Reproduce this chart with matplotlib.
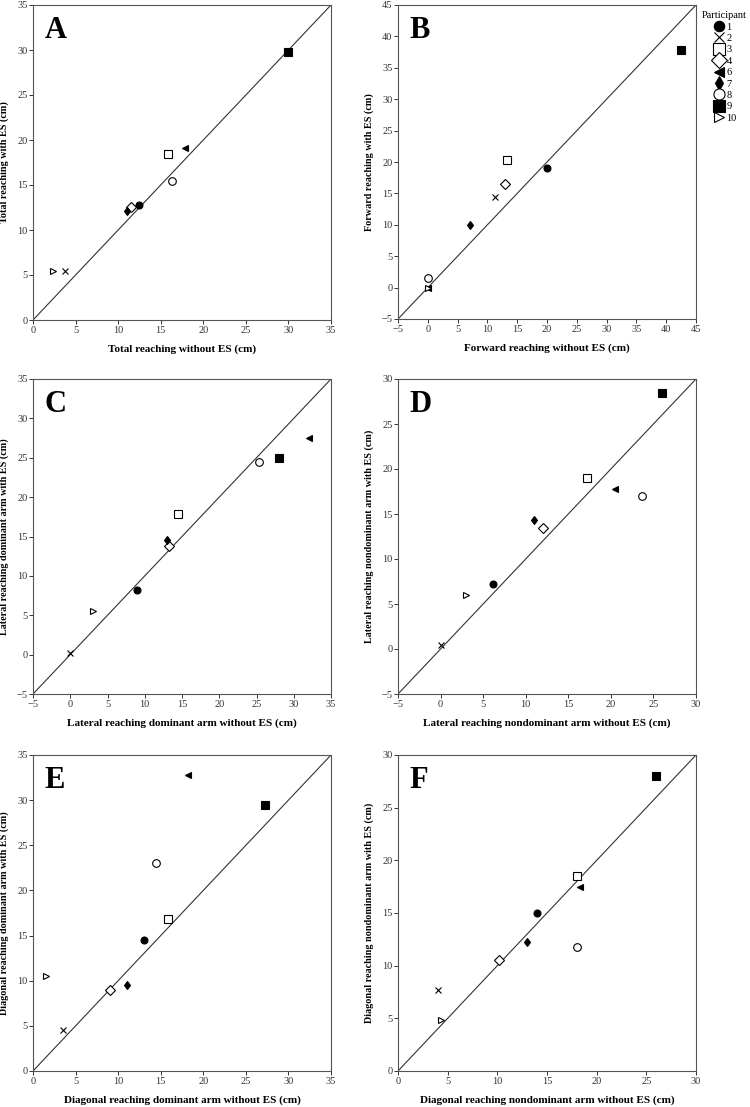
import matplotlib
matplotlib.use('Agg')
from matplotlib import pyplot as plt
from matplotlib.lines import Line2D

participants = ['1', '2', '3', '4', '6', '7', '8', '9', '10']
markers = ['o', 'x', 's', 'D', '<', 'd', 'o', 's', '>']
filled = [True, False, False, False, True, True, False, True, False]
sizes = [5, 4, 6, 5.5, 4.5, 4.5, 5.5, 6, 4.5]

# panel A
a_x = [12.5, 3.8, 15.8, 11.5, 17.8, 11.0, 16.3, 30.0, 2.4]
a_y = [12.8, 5.5, 18.4, 12.6, 19.1, 12.1, 15.5, 29.8, 5.4]
# panel B
b_x = [20.0, 11.3, 13.3, 13.0, 0.0, 7.0, 0.0, 42.5, 0.0]
b_y = [19.0, 14.5, 20.3, 16.5, 0.0, 10.0, 1.5, 37.8, 0.0]
# panel C
c_x = [9.0, 0.0, 14.5, 13.3, 32.0, 13.0, 25.3, 28.0, 3.0]
c_y = [8.2, 0.2, 17.8, 13.8, 27.5, 14.5, 24.5, 25.0, 5.5]
# panel D
d_x = [6.2, 0.0, 17.2, 12.0, 20.5, 11.0, 23.7, 26.0, 3.0]
d_y = [7.2, 0.5, 19.0, 13.5, 17.8, 14.3, 17.0, 28.5, 6.0]
# panel E
e_x = [13.0, 3.5, 15.8, 9.0, 18.2, 11.0, 14.5, 27.2, 1.5]
e_y = [14.5, 4.5, 16.8, 9.0, 32.8, 9.5, 23.0, 29.5, 10.5]
# panel F
f_x = [14.0, 4.0, 18.0, 10.2, 18.3, 13.0, 18.0, 26.0, 4.3]
f_y = [15.0, 7.7, 18.5, 10.5, 17.5, 12.2, 11.8, 28.0, 4.8]

panels = [
    ('A', a_x, a_y, (0, 35), 'Total reaching without ES (cm)', 'Total reaching with ES (cm)'),
    ('B', b_x, b_y, (-5, 45), 'Forward reaching without ES (cm)', 'Forward reaching with ES (cm)'),
    ('C', c_x, c_y, (-5, 35), 'Lateral reaching dominant arm without ES (cm)', 'Lateral reaching dominant arm with ES (cm)'),
    ('D', d_x, d_y, (-5, 30), 'Lateral reaching nondominant arm without ES (cm)', 'Lateral reaching nondominant arm with ES (cm)'),
    ('E', e_x, e_y, (0, 35), 'Diagonal reaching dominant arm without ES (cm)', 'Diagonal reaching dominant arm with ES (cm)'),
    ('F', f_x, f_y, (0, 30), 'Diagonal reaching nondominant arm without ES (cm)', 'Diagonal reaching nondominant arm with ES (cm)'),
]

# axes boxes in pixels: left, top, right, bottom
boxes = [(33, 5, 331, 320), (398, 5, 696, 319),
         (33, 379, 331, 694), (398, 379, 696, 694),
         (33, 755, 331, 1071), (398, 755, 696, 1071)]

plt.rcParams['font.family'] = ['Liberation Serif', 'DejaVu Serif']
W, H = 750, 1107
fig = plt.figure(figsize=(7.5, 11.07), dpi=100)

for (letter, xs, ys, lim, xl, yl), (l, t, r, b) in zip(panels, boxes):
    ax = fig.add_axes([l / W, 1 - b / H, (r - l) / W, (b - t) / H])
    ax.plot(lim, lim, c='#333333', lw=0.8, zorder=1)
    for i in range(len(participants)):
        fc = 'black' if filled[i] else 'white'
        ax.plot(xs[i], ys[i], marker=markers[i], ms=sizes[i], mfc=fc,
                mec='black', mew=0.8, ls='none', zorder=3)
    ax.set_xlim(lim)
    ax.set_ylim(lim)
    ax.set_xticks(range(lim[0], lim[1] + 1, 5))
    ax.set_yticks(range(lim[0], lim[1] + 1, 5))
    ax.tick_params(axis='both', labelsize=7.5, length=3, width=0.7,
                   colors='#333333', pad=1)
    for s in ax.spines.values():
        s.set_linewidth(0.8)
        s.set_color('#555555')
    ax.set_xlabel(xl, fontsize=8, fontweight='bold', labelpad=7)
    ax.set_ylabel(yl, fontsize=7.3, fontweight='bold')
    ax.yaxis.set_label_coords(-24.0 / (r - l), 0.5)
    ax.text(0.04, 0.92, letter, transform=ax.transAxes, fontsize=22,
            fontweight='bold', va='center', ha='left')

handles = []
for i in range(len(participants)):
    fc = 'black' if filled[i] else 'white'
    handles.append(Line2D([], [], marker=markers[i], ms=sizes[i] + 2.5, mfc=fc,
                          mec='black', mew=0.8, ls='none', label=participants[i]))
leg = fig.legend(handles=handles, title='Participant', loc='upper left',
                 bbox_to_anchor=(693 / W, 1 - 3 / H), frameon=False,
                 fontsize=7.5, title_fontsize=7.5, handletextpad=0.0,
                 labelspacing=0.2, borderpad=0.3, handlelength=1.5)

fig.savefig('out.png', dpi=100)
